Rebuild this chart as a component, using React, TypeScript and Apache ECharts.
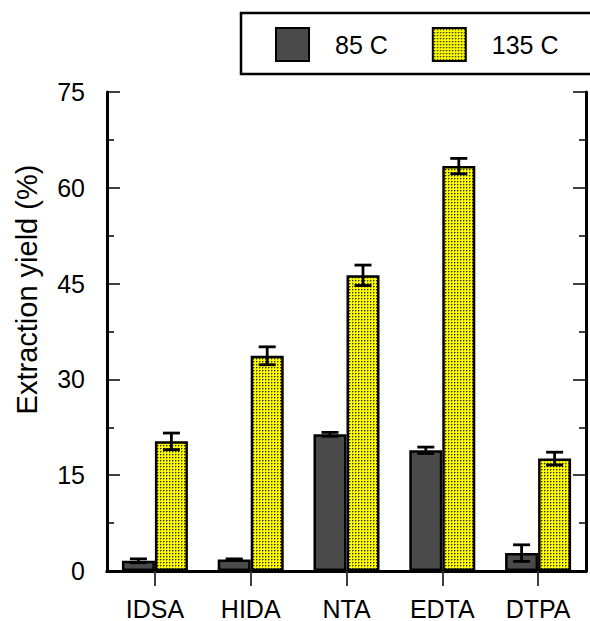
import React, { useEffect, useRef } from "react";
import * as echarts from "echarts";

const categories = ["IDSA", "HIDA", "NTA", "EDTA", "DTPA"];
const seriesNames = ["85 C", "135 C"];
const values85 = [1.6, 1.8, 21.4, 18.9, 2.8];
const errors85 = [0.3, 0.1, 0.3, 0.5, 1.3];
const values135 = [20.3, 33.7, 46.3, 63.4, 17.6];
const errors135 = [1.3, 1.4, 1.6, 1.2, 1.0];
const yTicks = [0, 15, 30, 45, 60, 75];

const FONT = "'Liberation Sans', Arial, Helvetica, sans-serif";

function makePattern() {
  const c = document.createElement("canvas");
  c.width = 3;
  c.height = 3;
  const ctx = c.getContext("2d")!;
  ctx.fillStyle = "#ffff00";
  ctx.fillRect(0, 0, 3, 3);
  ctx.fillStyle = "#2e2e00";
  ctx.fillRect(1, 1, 1, 1);
  ctx.fillStyle = "#a0a000";
  ctx.fillRect(2, 1, 1, 1);
  ctx.fillRect(1, 2, 1, 1);
  return {
    image: c.toDataURL(),
    repeat: "repeat",
    imageWidth: 3,
    imageHeight: 3,
  };
}

export default function App() {
  const ref = useRef<HTMLDivElement>(null);
  useEffect(() => {
    if (!ref.current) return;
    const chart = echarts.init(ref.current, undefined, { renderer: "svg" });
    const pattern = makePattern();
    const barW = 33;

    const errSeries = (vals: number[], errs: number[], offset: number, name: string) => ({
      type: "custom",
      name: name + " err",
      xAxisIndex: 0,
      yAxisIndex: 0,
      z: 5,
      silent: true,
      data: vals.map((v, i) => [i, v - errs[i], v + errs[i]]),
      renderItem: (params: any, api: any) => {
        const lo = api.coord([api.value(0), api.value(1)]);
        const hi = api.coord([api.value(0), api.value(2)]);
        const x = lo[0] + offset;
        const half = 8.5;
        const style = { stroke: "#000", lineWidth: 2.8, fill: "none" };
        return {
          type: "group",
          children: [
            { type: "line", shape: { x1: x, y1: lo[1], x2: x, y2: hi[1] }, style },
            { type: "line", shape: { x1: x - half, y1: lo[1], x2: x + half, y2: lo[1] }, style },
            { type: "line", shape: { x1: x - half, y1: hi[1], x2: x + half, y2: hi[1] }, style },
          ],
        };
      },
    });

    const yMin = yTicks[0];
    const yMax = yTicks[yTicks.length - 1];
    const yInt = yTicks[1] - yTicks[0];

    const yAxisBase = {
      type: "value",
      min: yMin,
      max: yMax,
      interval: yInt,
      splitLine: { show: false },
      axisLine: { show: true, lineStyle: { color: "#000", width: 3 } },
      axisTick: { show: true, inside: true, length: 13, lineStyle: { color: "#000", width: 1.5 } },
      minorTick: { show: true, splitNumber: 2, length: 7, lineStyle: { color: "#000", width: 1.5 } },
    };

    chart.setOption({
      animation: false,
      backgroundColor: "#fff",
      graphic: [
        {
          type: "rect",
          z: 0,
          shape: { x: 241, y: 13, width: 360, height: 61 },
          style: { fill: "#fff", stroke: "#000", lineWidth: 2.5 },
        },
      ],
      legend: {
        data: seriesNames,
        left: 275,
        top: 27,
        padding: 0,
        z: 10,
        itemWidth: 33,
        itemHeight: 33,
        itemGap: 44,
        icon: "rect",
        textStyle: { fontSize: 25, color: "#000", fontFamily: FONT, padding: [0, 0, 0, 21] },
      },
      grid: { left: 107, right: 4, top: 92, bottom: 49, containLabel: false },
      xAxis: [
        {
          type: "category",
          data: categories,
          position: "bottom",
          boundaryGap: true,
          axisLine: { show: true, lineStyle: { color: "#000", width: 3 } },
          axisTick: { show: true, alignWithLabel: true, inside: false, length: 15, lineStyle: { color: "#333", width: 1.5 } },
          axisLabel: { fontSize: 25, color: "#000", fontFamily: FONT, margin: 25 },
          splitLine: { show: false },
        },
        {
          type: "category",
          data: categories,
          position: "top",
          boundaryGap: true,
          axisLine: { show: true, lineStyle: { color: "#000", width: 3 } },
          axisTick: { show: true, alignWithLabel: true, inside: true, length: 15, lineStyle: { color: "#333", width: 1.5 } },
          axisLabel: { show: false },
          splitLine: { show: false },
        },
      ],
      yAxis: [
        {
          ...yAxisBase,
          position: "left",
          name: "Extraction yield (%)",
          nameLocation: "middle",
          nameGap: 66,
          nameRotate: 90,
          nameTextStyle: { fontSize: 29, color: "#000", fontFamily: FONT, padding: [0, 0, 0, 84] },
          axisLabel: { fontSize: 25, color: "#000", fontFamily: FONT, margin: 22 },
        },
        {
          ...yAxisBase,
          position: "right",
          axisLabel: { show: false },
        },
      ],
      series: [
        {
          type: "bar",
          name: seriesNames[0],
          data: values85,
          barWidth: barW,
          barGap: "0%",
          itemStyle: { color: "#4a4a4a", borderColor: "#000", borderWidth: 2.5 },
        },
        {
          type: "bar",
          name: seriesNames[1],
          data: values135,
          barWidth: barW,
          barGap: "0%",
          itemStyle: { color: pattern, borderColor: "#000", borderWidth: 2.5 },
        },
        errSeries(values85, errors85, -barW / 2, seriesNames[0]),
        errSeries(values135, errors135, barW / 2, seriesNames[1]),
      ],
    });
    return () => chart.dispose();
  }, []);
  return (
    <div
      ref={ref}
      style={{ position: "fixed", left: 0, top: 0, width: 590, height: 621 }}
    />
  );
}
